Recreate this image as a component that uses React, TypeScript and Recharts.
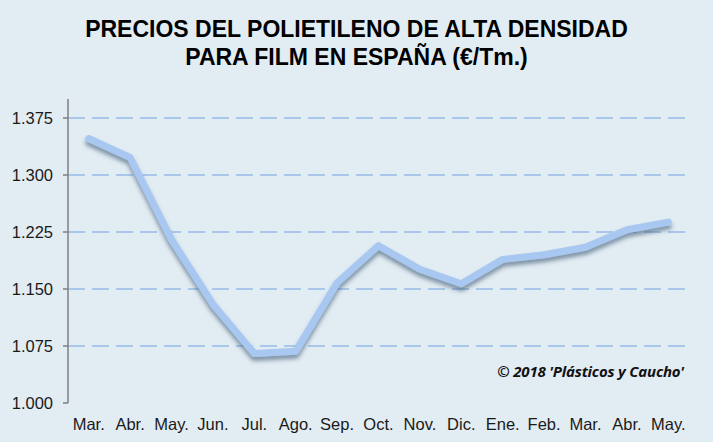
import React from 'react';
import { LineChart, Line, XAxis, YAxis, CartesianGrid } from 'recharts';

const months = ['Mar.', 'Abr.', 'May.', 'Jun.', 'Jul.', 'Ago.', 'Sep.', 'Oct.', 'Nov.', 'Dic.', 'Ene.', 'Feb.', 'Mar.', 'Abr.', 'May.'];
const prices = [1.348, 1.323, 1.215, 1.13, 1.065, 1.068, 1.158, 1.207, 1.176, 1.157, 1.189, 1.195, 1.205, 1.228, 1.238];
const yTicks = [1.0, 1.075, 1.15, 1.225, 1.3, 1.375];
const gridValues = [1.075, 1.15, 1.225, 1.3, 1.375];
const boundaryTicks = months.map((_, i) => i).concat([months.length]);
const labelTicks = months.map((_, i) => i + 0.5);

const data = months.map((m, i) => ({ x: i + 0.5, month: m, price: prices[i] }));

const BG = '#e2ecf3';
const AXIS = '#7f7f7f';
const FONT = '"Liberation Sans", Arial, sans-serif';

export default function App() {
  return (
    <div style={{ position: 'relative', width: 713, height: 442, background: BG, fontFamily: FONT }}>
      <style>{`body{margin:0}`}</style>
      <div
        style={{
          position: 'absolute',
          left: 0,
          top: 15,
          width: 713,
          textAlign: 'center',
          fontWeight: 'bold',
          fontSize: 23,
          lineHeight: '28px',
          color: '#000',
        }}
      >
        PRECIOS DEL POLIETILENO DE ALTA DENSIDAD
        <br />
        PARA FILM EN ESPAÑA (€/Tm.)
      </div>
      <LineChart width={713} height={442} data={data} margin={{ top: 99, right: 24, left: 0, bottom: 0 }}>
        <defs>
          <filter id="lineShadow" x="-10%" y="-30%" width="120%" height="160%">
            <feDropShadow dx="0" dy="4" stdDeviation="2.2" floodColor="#3a5873" floodOpacity="0.6" />
          </filter>
        </defs>
        <CartesianGrid
          vertical={false}
          horizontalValues={gridValues}
          stroke="#a9c7ea"
          strokeWidth={2}
          strokeDasharray="17 7"
        />
        <XAxis
          xAxisId={0}
          type="number"
          dataKey="x"
          domain={[0, months.length]}
          ticks={boundaryTicks}
          tickFormatter={() => ''}
          height={0}
          tickSize={4}
          axisLine={{ stroke: AXIS, strokeWidth: 1.5 }}
          tickLine={{ stroke: AXIS, strokeWidth: 1.5 }}
          interval={0}
        />
        <XAxis
          xAxisId={1}
          type="number"
          dataKey="x"
          domain={[0, months.length]}
          ticks={labelTicks}
          tickFormatter={(v: number) => months[Math.floor(v)]}
          height={39}
          tickSize={4}
          tickMargin={11}
          axisLine={false}
          tickLine={false}
          interval={0}
          tick={{ fill: '#1a1a1a', fontSize: 16.5, fontFamily: FONT }}
        />
        <YAxis
          type="number"
          domain={[1.0, 1.4]}
          ticks={yTicks}
          width={68}
          tickSize={5}
          tickMargin={10}
          tickFormatter={(v: number) => v.toFixed(3)}
          axisLine={{ stroke: AXIS, strokeWidth: 1.5 }}
          tickLine={{ stroke: AXIS, strokeWidth: 1.5 }}
          tick={{ fill: '#1a1a1a', fontSize: 16.5, fontFamily: FONT }}
          interval={0}
        />
        <Line
          xAxisId={0}
          type="linear"
          dataKey="price"
          stroke="#a8c8f2"
          strokeWidth={7}
          strokeLinecap="round"
          strokeLinejoin="round"
          dot={false}
          activeDot={false}
          filter="url(#lineShadow)"
          isAnimationActive={false}
        />
      </LineChart>
      <div
        style={{
          position: 'absolute',
          right: 29,
          top: 361,
          fontFamily: '"Open Sans", sans-serif',
          fontWeight: 'bold',
          fontStyle: 'italic',
          fontSize: 15,
          color: '#111',
          whiteSpace: 'nowrap',
          letterSpacing: -0.2,
        }}
      >
        © 2018 'Plásticos y Caucho'
      </div>
    </div>
  );
}
